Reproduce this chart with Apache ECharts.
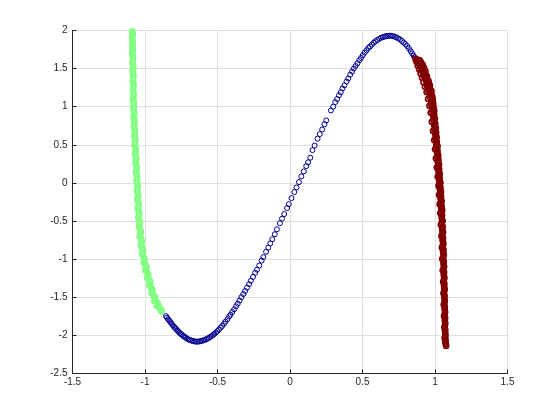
<!DOCTYPE html>
<html>
<head>
<meta charset="utf-8">
<script src="https://cdn.jsdelivr.net/npm/echarts@6/dist/echarts.min.js"></script>
<style>
  html, body { margin: 0; padding: 0; background: #ffffff; }
  #chart { width: 560px; height: 420px; }
</style>
</head>
<body>
<div id="chart"></div>
<script>
// tick positions of the two axes
const xTicks = [-1.5, -1, -0.5, 0, 0.5, 1, 1.5];
const yTicks = [-2.5, -2, -1.5, -1, -0.5, 0, 0.5, 1, 1.5, 2];

// left branch (green)
const greenPoints = [
  [-1.089, 1.99], [-1.085, 1.95], [-1.090, 1.90], [-1.084, 1.85], [-1.088, 1.80],
  [-1.083, 1.75], [-1.089, 1.70], [-1.082, 1.64], [-1.087, 1.58], [-1.081, 1.52],
  [-1.086, 1.46], [-1.080, 1.40], [-1.085, 1.34], [-1.079, 1.28], [-1.084, 1.22],
  [-1.078, 1.16], [-1.083, 1.10], [-1.076, 1.04], [-1.081, 0.98], [-1.074, 0.92],
  [-1.079, 0.86], [-1.072, 0.80], [-1.077, 0.74], [-1.069, 0.68], [-1.075, 0.62],
  [-1.066, 0.56], [-1.072, 0.50], [-1.063, 0.44], [-1.069, 0.38], [-1.060, 0.32],
  [-1.066, 0.26], [-1.057, 0.20], [-1.063, 0.14], [-1.053, 0.08], [-1.060, 0.02],
  [-1.049, -0.04], [-1.057, -0.10], [-1.046, -0.16], [-1.054, -0.22], [-1.043, -0.28],
  [-1.050, -0.34], [-1.039, -0.40], [-1.046, -0.46], [-1.034, -0.52], [-1.042, -0.58],
  [-1.029, -0.64], [-1.037, -0.70], [-1.022, -0.76], [-1.030, -0.82], [-1.013, -0.88],
  [-1.021, -0.94], [-1.002, -1.00], [-1.010, -1.05], [-0.990, -1.10], [-0.998, -1.15],
  [-0.978, -1.20], [-0.985, -1.25], [-0.963, -1.30], [-0.970, -1.35], [-0.948, -1.40],
  [-0.955, -1.45], [-0.930, -1.50], [-0.936, -1.55], [-0.912, -1.58], [-0.918, -1.62],
  [-0.895, -1.65], [-0.885, -1.69],
  [-1.086, 1.97], [-1.087, 1.925], [-1.086, 1.875], [-1.087, 1.825], [-1.085, 1.775],
  [-1.086, 1.725], [-1.085, 1.67], [-1.084, 1.61], [-1.083, 1.55], [-1.083, 1.49],
  [-1.082, 1.43], [-1.082, 1.37], [-1.081, 1.31], [-1.081, 1.25], [-1.080, 1.19],
  [-1.080, 1.13], [-1.079, 1.07], [-1.078, 1.01], [-1.077, 0.95], [-1.076, 0.89],
  [-1.075, 0.83], [-1.074, 0.77], [-1.072, 0.71], [-1.071, 0.65], [-1.069, 0.59],
  [-1.068, 0.53], [-1.066, 0.47], [-1.065, 0.41], [-1.063, 0.35], [-1.062, 0.29],
  [-1.060, 0.23], [-1.059, 0.17], [-1.057, 0.11], [-1.055, 0.05], [-1.054, -0.01],
  [-1.052, -0.07], [-1.050, -0.13], [-1.049, -0.19], [-1.047, -0.25], [-1.045, -0.31],
  [-1.043, -0.37], [-1.041, -0.43], [-1.039, -0.49], [-1.037, -0.55], [-1.034, -0.61],
  [-1.032, -0.67], [-1.028, -0.73], [-1.025, -0.79], [-1.020, -0.85], [-1.016, -0.91],
  [-1.010, -0.97], [-1.005, -1.025], [-0.998, -1.075], [-0.993, -1.125], [-0.986, -1.175],
  [-0.980, -1.225], [-0.972, -1.275], [-0.965, -1.325], [-0.958, -1.375], [-0.950, -1.425],
  [-0.942, -1.475], [-0.932, -1.525], [-0.922, -1.565], [-0.910, -1.60], [-0.902, -1.635],
  [-0.890, -1.67]
];

// middle branch (blue)
const bluePoints = [
  [-0.855, -1.75], [-0.848, -1.77], [-0.840, -1.79], [-0.832, -1.81], [-0.824, -1.83],
  [-0.816, -1.85], [-0.808, -1.87], [-0.800, -1.89], [-0.792, -1.905], [-0.784, -1.92],
  [-0.776, -1.94], [-0.768, -1.955], [-0.760, -1.97], [-0.752, -1.985], [-0.744, -1.995],
  [-0.736, -2.01], [-0.728, -2.02], [-0.720, -2.03], [-0.710, -2.045], [-0.700, -2.055],
  [-0.690, -2.063], [-0.680, -2.07], [-0.670, -2.076], [-0.660, -2.08], [-0.650, -2.084],
  [-0.640, -2.085], [-0.630, -2.083], [-0.620, -2.08], [-0.610, -2.075], [-0.600, -2.07],
  [-0.590, -2.063], [-0.580, -2.055], [-0.570, -2.045], [-0.560, -2.035], [-0.550, -2.022],
  [-0.540, -2.01], [-0.530, -1.995], [-0.520, -1.98], [-0.510, -1.962], [-0.500, -1.945],
  [-0.490, -1.925], [-0.478, -1.90], [-0.468, -1.878], [-0.455, -1.85], [-0.445, -1.822],
  [-0.432, -1.79], [-0.420, -1.755], [-0.410, -1.73], [-0.398, -1.695], [-0.385, -1.66],
  [-0.372, -1.62], [-0.360, -1.585], [-0.348, -1.545], [-0.335, -1.50], [-0.322, -1.46],
  [-0.310, -1.42], [-0.296, -1.375], [-0.282, -1.33], [-0.270, -1.285], [-0.255, -1.235],
  [-0.240, -1.18], [-0.228, -1.14], [-0.212, -1.085], [-0.196, -1.02], [-0.184, -0.975],
  [-0.165, -0.905], [-0.150, -0.85], [-0.136, -0.795], [-0.122, -0.74], [-0.105, -0.675],
  [-0.090, -0.61], [-0.070, -0.53], [-0.055, -0.47], [-0.040, -0.41], [-0.020, -0.33],
  [-0.008, -0.28], [0.010, -0.20], [0.030, -0.12], [0.045, -0.06], [0.062, 0.01],
  [0.078, 0.085], [0.095, 0.15], [0.112, 0.22], [0.125, 0.27], [0.140, 0.33],
  [0.155, 0.43], [0.170, 0.49], [0.190, 0.58], [0.205, 0.64], [0.222, 0.70],
  [0.238, 0.77], [0.250, 0.82], [0.282, 0.95], [0.298, 1.00], [0.312, 1.06],
  [0.325, 1.10], [0.338, 1.15], [0.350, 1.19], [0.362, 1.24], [0.375, 1.28],
  [0.390, 1.33], [0.402, 1.37], [0.415, 1.42], [0.428, 1.46], [0.440, 1.50],
  [0.452, 1.535], [0.465, 1.57], [0.478, 1.61], [0.490, 1.64], [0.502, 1.675],
  [0.515, 1.71], [0.528, 1.74], [0.540, 1.77], [0.552, 1.79], [0.565, 1.815],
  [0.578, 1.84], [0.590, 1.86], [0.602, 1.875], [0.615, 1.89], [0.628, 1.905],
  [0.640, 1.912], [0.652, 1.92], [0.664, 1.927], [0.676, 1.93], [0.688, 1.932],
  [0.700, 1.93], [0.712, 1.925], [0.724, 1.918], [0.736, 1.908], [0.748, 1.895],
  [0.760, 1.88], [0.772, 1.862], [0.784, 1.842], [0.796, 1.82], [0.808, 1.795],
  [0.820, 1.765], [0.832, 1.73], [0.842, 1.70], [0.852, 1.67], [0.860, 1.645]
];

// right branch (dark red)
const redPoints = [
  [0.865, 1.63], [0.880, 1.62], [0.895, 1.61], [0.875, 1.59], [0.905, 1.58],
  [0.890, 1.56], [0.915, 1.55], [0.880, 1.54], [0.900, 1.52], [0.925, 1.51],
  [0.890, 1.49], [0.912, 1.47], [0.935, 1.46], [0.900, 1.44], [0.925, 1.42],
  [0.945, 1.40], [0.910, 1.38], [0.935, 1.36], [0.955, 1.34], [0.920, 1.32],
  [0.945, 1.30], [0.965, 1.28], [0.930, 1.26], [0.955, 1.24], [0.975, 1.21],
  [0.942, 1.19], [0.965, 1.16], [0.982, 1.13], [0.952, 1.10], [0.974, 1.07],
  [0.988, 1.04], [0.962, 1.01], [0.980, 0.98], [0.995, 0.95], [0.970, 0.92],
  [0.988, 0.88], [1.000, 0.84], [0.978, 0.80], [0.995, 0.76], [1.006, 0.72],
  [0.986, 0.68], [1.002, 0.64], [1.012, 0.60], [0.994, 0.56], [1.008, 0.52],
  [1.018, 0.48], [1.000, 0.44], [1.014, 0.40], [1.023, 0.36], [1.006, 0.32],
  [1.019, 0.28], [1.028, 0.24], [1.012, 0.20], [1.024, 0.16], [1.033, 0.12],
  [1.018, 0.08], [1.029, 0.04], [1.038, 0.00], [1.024, -0.04], [1.034, -0.08],
  [1.042, -0.12], [1.028, -0.16], [1.038, -0.20], [1.046, -0.24], [1.032, -0.28],
  [1.042, -0.32], [1.050, -0.36], [1.036, -0.40], [1.046, -0.45], [1.053, -0.50],
  [1.040, -0.55], [1.049, -0.60], [1.056, -0.65], [1.044, -0.70], [1.052, -0.75],
  [1.058, -0.80], [1.047, -0.85], [1.055, -0.90], [1.061, -0.95], [1.050, -1.00],
  [1.058, -1.05], [1.063, -1.10], [1.053, -1.15], [1.060, -1.20], [1.065, -1.25],
  [1.056, -1.30], [1.062, -1.35], [1.067, -1.40], [1.058, -1.45], [1.064, -1.50],
  [1.068, -1.55], [1.060, -1.60], [1.066, -1.65], [1.070, -1.70], [1.062, -1.75],
  [1.068, -1.80], [1.071, -1.85], [1.064, -1.90], [1.069, -1.95], [1.072, -2.00],
  [1.066, -2.04], [1.071, -2.08], [1.075, -2.12], [1.077, -2.14],
  [0.870, 1.60], [0.885, 1.575], [0.900, 1.545], [0.910, 1.525], [0.905, 1.50],
  [0.920, 1.48], [0.915, 1.455], [0.930, 1.43], [0.920, 1.41], [0.940, 1.385],
  [0.930, 1.37], [0.948, 1.35], [0.940, 1.33], [0.958, 1.31], [0.950, 1.29],
  [0.945, 1.27], [0.965, 1.25], [0.960, 1.225], [0.955, 1.20], [0.975, 1.18],
  [0.970, 1.145], [0.965, 1.12], [0.985, 1.09], [0.980, 1.055], [0.975, 1.025],
  [0.990, 0.995], [0.988, 0.965], [0.982, 0.935], [0.995, 0.90], [0.992, 0.86],
  [0.990, 0.82], [1.002, 0.78], [0.998, 0.74], [0.996, 0.70], [1.008, 0.66],
  [1.005, 0.62], [1.003, 0.58], [1.013, 0.54], [1.010, 0.50], [1.008, 0.46],
  [1.018, 0.42], [1.016, 0.38], [1.014, 0.34], [1.024, 0.30], [1.022, 0.26],
  [1.020, 0.22], [1.029, 0.18], [1.027, 0.14], [1.025, 0.10], [1.033, 0.06],
  [1.032, 0.02], [1.030, -0.02], [1.038, -0.06], [1.037, -0.10], [1.035, -0.14],
  [1.042, -0.18], [1.041, -0.22], [1.039, -0.26], [1.046, -0.30], [1.045, -0.34],
  [1.043, -0.38], [1.049, -0.425], [1.048, -0.475], [1.046, -0.525], [1.053, -0.575],
  [1.051, -0.625], [1.050, -0.675], [1.056, -0.725], [1.055, -0.775], [1.053, -0.825],
  [1.059, -0.875], [1.058, -0.925], [1.056, -0.975], [1.061, -1.025], [1.060, -1.075],
  [1.059, -1.125], [1.063, -1.175], [1.062, -1.225], [1.061, -1.275], [1.065, -1.325],
  [1.064, -1.375], [1.063, -1.425], [1.066, -1.475], [1.066, -1.525], [1.065, -1.575],
  [1.068, -1.625], [1.068, -1.675], [1.067, -1.725], [1.070, -1.775], [1.069, -1.825],
  [1.068, -1.875], [1.071, -1.925], [1.071, -1.975], [1.070, -2.02], [1.073, -2.06],
  [1.073, -2.10]
];

const chart = echarts.init(document.getElementById('chart'));

const axisColor = '#262626';
const labelStyle = {
  color: axisColor,
  fontFamily: 'Liberation Sans, Arial, sans-serif',
  fontSize: 10
};

// hollow circle markers, MATLAB scatter style
function ringSeries(data, color, lw) {
  return {
    type: 'scatter',
    data: data,
    symbol: 'circle',
    symbolSize: 5,
    silent: true,
    itemStyle: {
      color: 'rgba(0,0,0,0)',
      borderColor: color,
      borderWidth: lw,
      opacity: 1
    }
  };
}

chart.setOption({
  animation: false,
  backgroundColor: '#ffffff',
  grid: { left: 72.5, right: 52.5, top: 30.5, bottom: 46.7 },
  xAxis: {
    type: 'value',
    min: xTicks[0],
    max: xTicks[xTicks.length - 1],
    interval: 0.5,
    axisLine: { onZero: false, lineStyle: { color: axisColor, width: 1 } },
    axisTick: { inside: true, length: 4, lineStyle: { color: axisColor } },
    axisLabel: Object.assign({ margin: 4, formatter: v => String(v) }, labelStyle),
    splitLine: { show: true, lineStyle: { color: '#dedede', width: 1 } }
  },
  yAxis: {
    type: 'value',
    min: yTicks[0],
    max: yTicks[yTicks.length - 1],
    interval: 0.5,
    axisLine: { show: true, onZero: false, lineStyle: { color: axisColor, width: 1 } },
    axisTick: { show: true, inside: true, length: 4, lineStyle: { color: axisColor } },
    axisLabel: Object.assign({ margin: 5, formatter: v => String(v) }, labelStyle),
    splitLine: { show: true, lineStyle: { color: '#dedede', width: 1 } }
  },
  series: [
    ringSeries(greenPoints, '#80ff80', 1.6),
    ringSeries(bluePoints, '#00008f', 1),
    ringSeries(redPoints, '#800000', 1.6)
  ]
});
</script>
</body>
</html>
